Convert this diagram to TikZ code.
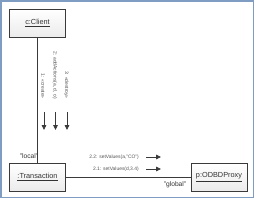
\documentclass[tikz,border=0pt]{standalone}
\usepackage{fontspec}
\setmainfont{Liberation Sans}
\usetikzlibrary{arrows.meta,positioning}
\definecolor{cFrame}{HTML}{7F9CC2}
\definecolor{cLine}{HTML}{3A3A3A}
\definecolor{cText}{HTML}{333333}
\definecolor{cMsg}{HTML}{555555}
\tikzset{
  obj/.style={draw=cLine,top color=white,bottom color=black!8,
              minimum width=42pt,minimum height=21pt,inner sep=0pt,
              text=cText,font=\fontsize{5.5}{6}\selectfont},
  link/.style={cLine,line width=0.6pt},
  msg/.style={text=cMsg,font=\fontsize{3.7}{4.5}\selectfont,inner sep=0pt},
  vmsg/.style={msg,rotate=-90,anchor=east},
  role/.style={text=cText,font=\fontsize{5}{6}\selectfont,inner sep=0pt},
  flow/.style={-{Triangle[length=3.6pt,width=3.4pt]},cLine,line width=0.5pt},
}

\begin{document}
\begin{tikzpicture}[x=0.75pt,y=-0.75pt]
  \useasboundingbox (0,0) rectangle (256,200);
  \fill[white] (0,0) rectangle (256,200);
  \draw[cFrame,line width=1.2pt] (0.8,0.8) rectangle (253.6,197.6);

  \node[obj] (client) at (37.5,23.5) {\underline{c:Client}};
  \node[obj] (trans) at (37.5,177.5) {\underline{:Transaction}};
  \node[obj] (proxy) at (219,177.5) {\underline{p:ODBDProxy}};

  \draw[link] (client) -- (trans);
  \draw[link] (trans) -- (proxy);

  \node[role] (local) at (29,156) {"local"};
  \node[role] (global) at (175,185) {"global"};

  % messages along the client link
  \node[vmsg] (m1) at (43,99) {1: «create»};
  \node[vmsg] (m2) at (55,99) {2: addActions(a, d, o)};
  \node[vmsg] (m3) at (66.5,99) {3: «destroy»};
  \coordinate (a1) at (44,112);  \coordinate (b1) at (44,130);
  \coordinate (a2) at (55.5,112); \coordinate (b2) at (55.5,130);
  \coordinate (a3) at (67,112);  \coordinate (b3) at (67,130);
  \draw[flow] (a1) -- (b1);
  \draw[flow] (a2) -- (b2);
  \draw[flow] (a3) -- (b3);

  % messages along the proxy link
  \node[msg,anchor=east] (m22) at (139,157) {2.2: setValues(a,"CO")};
  \node[msg,anchor=east] (m21) at (139,169) {2.1: setValues(d,3.4)};
  \coordinate (c22) at (146,157); \coordinate (d22) at (161,157);
  \coordinate (c21) at (146,169); \coordinate (d21) at (161,169);
  \draw[flow] (c22) -- (d22);
  \draw[flow] (c21) -- (d21);
\end{tikzpicture}
\end{document}
